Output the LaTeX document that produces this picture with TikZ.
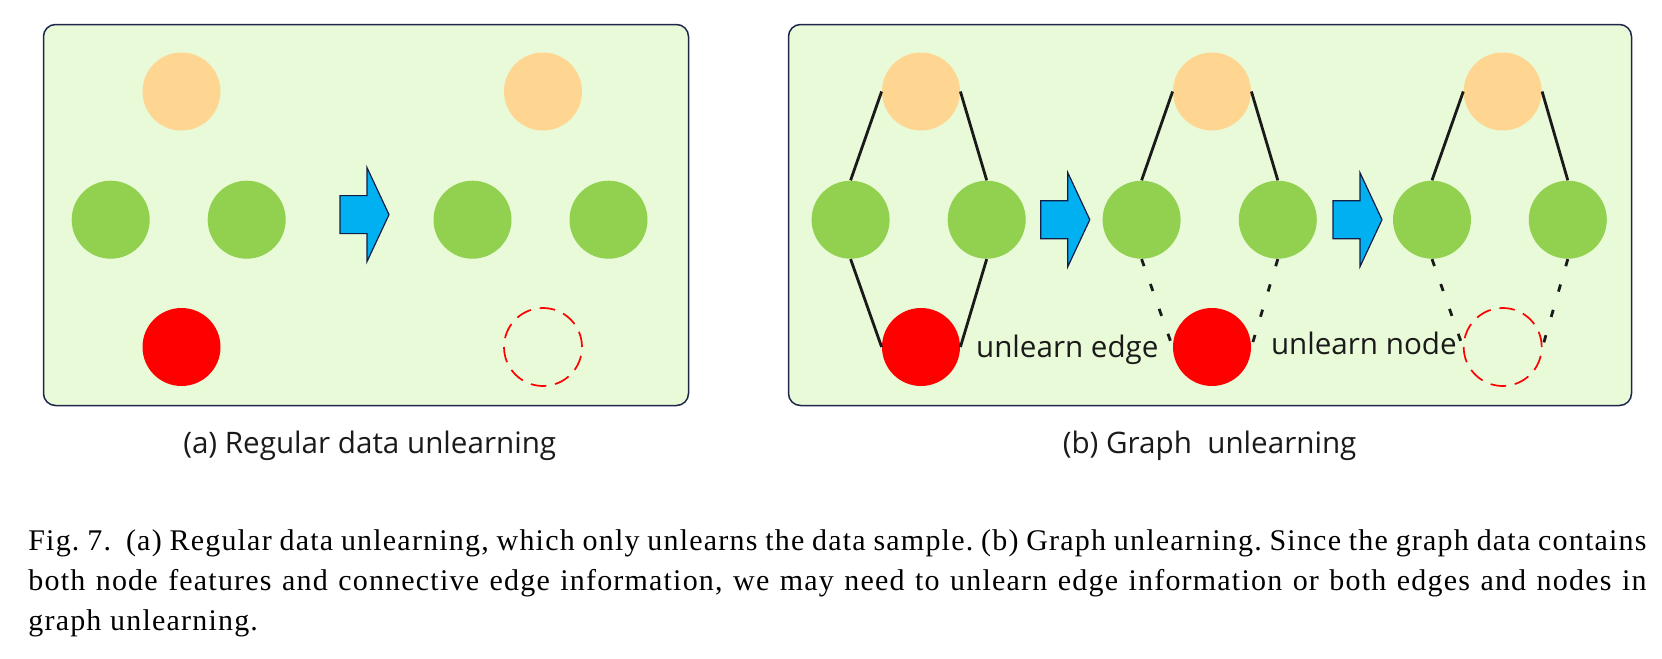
\documentclass[tikz,border=0pt]{standalone}
\usepackage{fontspec}
\setmainfont{Liberation Serif}
\newfontfamily\panelfont{Open Sans}
\newfontfamily\capfont[LetterSpace=4]{Liberation Serif}
\definecolor{panelbg}{RGB}{233,250,216}
\definecolor{panelline}{RGB}{30,38,75}
\definecolor{dotorange}{RGB}{255,214,145}
\definecolor{dotgreen}{RGB}{146,208,80}
\definecolor{dotred}{RGB}{255,0,0}
\definecolor{linkgray}{RGB}{26,26,26}
\definecolor{arrowblue}{RGB}{0,176,240}
\definecolor{arrowline}{RGB}{18,30,70}
\tikzset{
  panel/.style={draw=panelline,fill=panelbg,line width=0.75pt,rounded corners=6pt},
  dot/.style={circle,minimum size=39pt,inner sep=0pt},
  topdot/.style={dot,fill=dotorange},
  middot/.style={dot,fill=dotgreen},
  lowdot/.style={dot,fill=dotred},
  gonedot/.style={dot,draw=dotred,line width=0.85pt,dash pattern=on 7.8pt off 4.45pt},
  link/.style={draw=linkgray,line width=1.4pt},
  cutlink/.style={link,dash pattern=on 3.7pt off 9.5pt},
  stepglyph/.style={fill=arrowblue,draw=arrowline,line width=0.6pt,line join=miter},
  sublabel/.style={font=\panelfont\fontsize{14.8}{17}\selectfont,inner sep=0pt,text=linkgray},
  capline/.style={font=\capfont\fontsize{15}{20}\selectfont\frenchspacing,inner sep=0pt,text width=809pt,align=justify}
}
\newcommand{\blockarrow}[1]{%
  \draw[stepglyph] (#1) -- ++(-22,-47) -- ++(0,28) -- ++(-27,0) -- ++(0,38) -- ++(27,0) -- ++(0,28) -- cycle;}

\begin{document}
\begin{tikzpicture}[x=0.5pt,y=-0.5pt]
            \useasboundingbox (0,0) rectangle (1662,659);
            % (a) regular data
            \draw[panel] (43.5,24.5) rectangle (688.5,405.5);
            \node[topdot] (oa) at (181.5,91.5) {};
            \node[middot] (ga1) at (110.7,219.7) {};
            \node[middot] (ga2) at (246.7,219.7) {};
            \node[lowdot] (ra) at (181.5,347) {};
            \coordinate (tipA) at (389,214.6);
            \blockarrow{tipA}
            \node[topdot] (ob) at (543,91.5) {};
            \node[middot] (gb1) at (472.5,219.7) {};
            \node[middot] (gb2) at (608.5,219.7) {};
            \node[gonedot] (rb) at (543,347) {};
            \node[sublabel,anchor=base] (capa) at (369.7,453) {(a) Regular data unlearning};
            % (b) graph
            \draw[panel] (788.5,24.5) rectangle (1631.5,405.5);
            \node[topdot] (o1) at (921,91.5) {};
            \node[middot] (g11) at (850.6,219.7) {};
            \node[middot] (g12) at (986.7,219.7) {};
            \node[lowdot] (r1) at (921,347) {};
            \draw[link] (o1.west)--(g11.north);
            \draw[link] (o1.east)--(g12.north);
            \draw[link] (g11.south)--(r1.west);
            \draw[link] (g12.south)--(r1.east);
            \coordinate (tipB) at (1089.8,219.7);
            \blockarrow{tipB}
            \node[topdot] (o2) at (1212,91.5) {};
            \node[middot] (g21) at (1141.6,219.7) {};
            \node[middot] (g22) at (1277.8,219.7) {};
            \node[lowdot] (r2) at (1212,347) {};
            \draw[link] (o2.west)--(g21.north);
            \draw[link] (o2.east)--(g22.north);
            \draw[cutlink] (g21.south)--(r2.west);
            \draw[cutlink] (g22.south)--(r2.east);
            \coordinate (tipC) at (1382,219.7);
            \blockarrow{tipC}
            \node[topdot] (o3) at (1502.7,91.5) {};
            \node[middot] (g31) at (1432,219.7) {};
            \node[middot] (g32) at (1567.8,219.7) {};
            \node[gonedot] (r3) at (1502.7,347) {};
            \draw[link] (o3.west)--(g31.north);
            \draw[link] (o3.east)--(g32.north);
            \draw[cutlink] (g31.south)--(r3.west);
            \draw[cutlink] (g32.south)--(r3.east);
            \node[sublabel,anchor=base west] (tagedge) at (975.7,357) {unlearn edge};
            \node[sublabel,anchor=base west] (tagnode) at (1270.6,354) {unlearn node};
            \node[sublabel,anchor=base] (capb) at (1209.6,453) {(b) Graph~~unlearning};
            % caption
            \node[capline,anchor=base west] (caption) at (28,550) {Fig.~7.\enskip (a) Regular data unlearning, which only unlearns the data sample. (b) Graph unlearning. Since the graph data contains\linebreak both node features and connective edge information, we may need to unlearn edge information or both edges and nodes in\linebreak graph unlearning.};
        \end{tikzpicture}
\end{document}
